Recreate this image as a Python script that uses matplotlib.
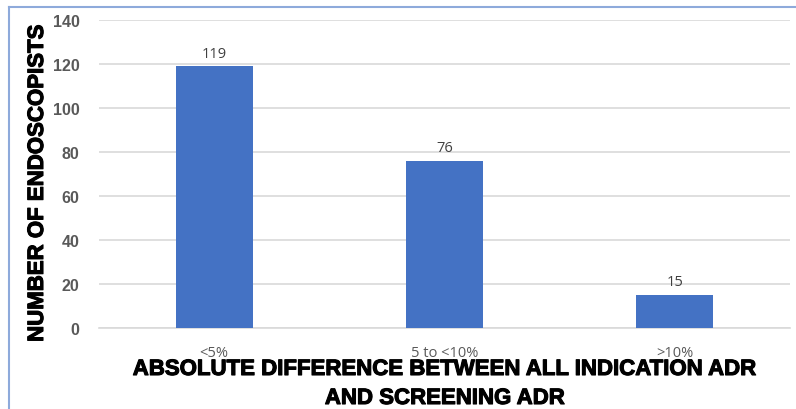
import matplotlib.pyplot as plt
import matplotlib.patheffects as pe
from matplotlib.lines import Line2D

# Endoscopist counts by ADR difference band
categories = ['<5%', '5 to <10%', '>10%']
counts = [119, 76, 15]
y_ticks = [0, 20, 40, 60, 80, 100, 120, 140]

bar_color = '#4472C4'
heavy = [pe.withStroke(linewidth=0.8, foreground='black')]

fig = plt.figure(figsize=(7.96, 4.10), dpi=100)
ax = fig.add_axes([99 / 796, 1 - 329 / 410, 691 / 796, 308 / 410])

x = range(len(categories))
bars = ax.bar(x, counts, width=0.335, color=bar_color, zorder=3)
for rect, val in zip(bars, counts):
    ax.text(rect.get_x() + rect.get_width() / 2, val + 2.5, str(val),
            ha='center', va='bottom', fontsize=10.5, color='#404040',
            family='Open Sans')

ax.set_xlim(-0.5, len(categories) - 0.5)
ax.set_ylim(0, 140)
ax.set_yticks(y_ticks)
ax.set_yticklabels([str(t) for t in y_ticks], fontsize=11.5, fontweight='bold',
                   color='#595959', family='Liberation Sans')
ax.set_xticks(list(x))
ax.set_xticklabels(categories, fontsize=10.5, color='#595959', family='Open Sans')
ax.tick_params(axis='both', length=0)
ax.tick_params(axis='x', pad=12)
ax.tick_params(axis='y', pad=14)

ax.grid(axis='y', color='#d9d9d9', linewidth=1.2, zorder=0)
for side in ['top', 'right', 'left']:
    ax.spines[side].set_visible(False)
ax.spines['bottom'].set_color('#d9d9d9')
ax.spines['bottom'].set_linewidth(1.2)

fig.text(37.5 / 796, 1 - 184 / 410, 'NUMBER OF ENDOSCOPISTS', rotation=90,
         ha='center', va='center', fontsize=16, fontweight='bold',
         family='Liberation Sans', color='black', path_effects=heavy)
fig.text(445 / 796, 1 - 385 / 410,
         'ABSOLUTE DIFFERENCE BETWEEN ALL INDICATION ADR\nAND SCREENING ADR',
         ha='center', va='center', fontsize=16, fontweight='bold',
         family='Liberation Sans', color='black', linespacing=1.5,
         path_effects=heavy)

# chart frame edges
fig.add_artist(Line2D([9 / 796, 1], [1 - 8 / 410, 1 - 8 / 410],
                      color='#8eaadb', linewidth=1.5))
fig.add_artist(Line2D([9 / 796, 9 / 796], [0, 1 - 8 / 410],
                      color='#8eaadb', linewidth=1.5))

plt.savefig('out.png', dpi=100)
